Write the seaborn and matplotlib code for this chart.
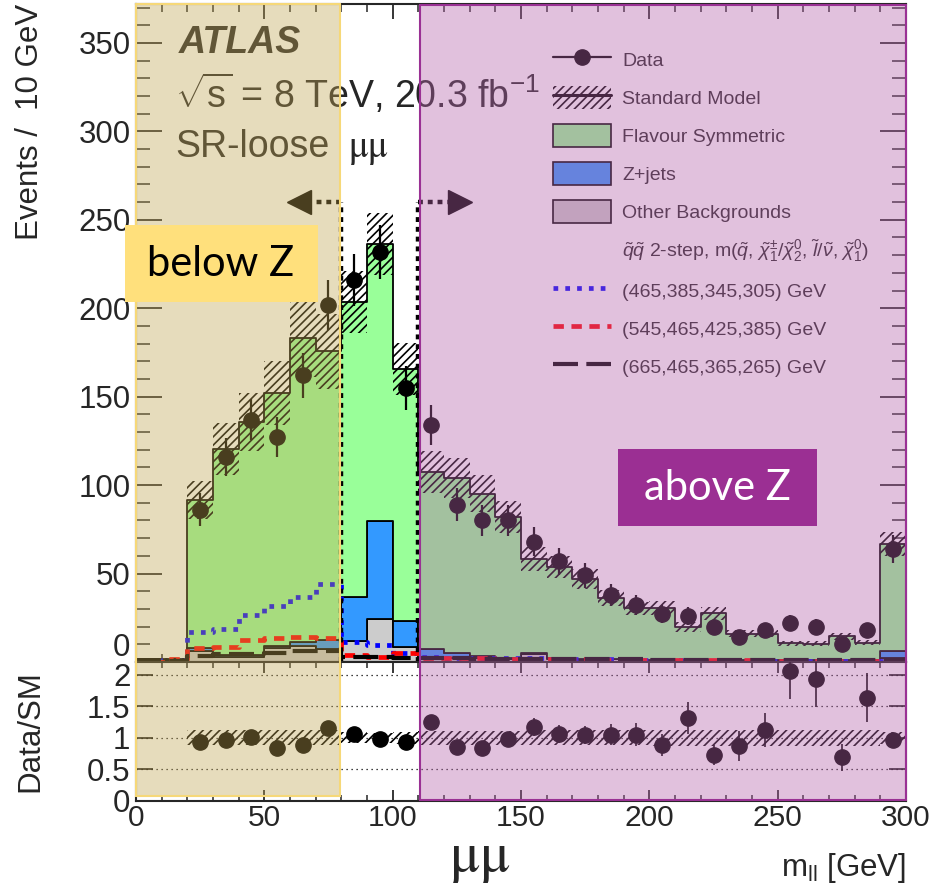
import numpy as np
import pandas as pd
import matplotlib
matplotlib.use("Agg")
import matplotlib.pyplot as plt
import seaborn as sns
from matplotlib.patches import Rectangle, Patch
from matplotlib.lines import Line2D
from matplotlib.transforms import blended_transform_factory
from matplotlib.ticker import MultipleLocator

# ---------------- data (10 GeV bins, 0-300 GeV) ----------------
edges = np.arange(0, 310, 10)
centers = edges[:-1] + 5
bin_list = [float(e) for e in edges]

other_bkg = [1.2, 1.0, 6.5, 3.0, 3.0, 8.0, 9.0, 7.5, 11.9, 24.3, 8.6, 2.2, 2.0, 2.0, 1.5,
             4.5, 1.5, 1.2, 1.5, 1.0, 1.0, 0.8, 0.8, 0.8, 0.6, 0.6, 0.6, 0.6, 0.6, 2.0]
zjets = [0.3, 0.3, 1.5, 0.8, 1.2, 0.8, 2.5, 5.0, 24.8, 55.4, 14.6, 5.0, 3.3, 1.4, 1.0,
         0.6, 0.5, 0.4, 0.4, 0.3, 0.3, 0.3, 0.3, 0.3, 0.3, 0.3, 0.3, 0.3, 0.3, 4.5]
flavour_sym = [0.3, 0.5, 83.6, 116.6, 131.6, 143.2, 171.5, 163.1, 166.8, 156.6, 142.4,
               100.2, 98.7, 91.6, 79.5, 53.1, 51.7, 45.3, 34.3, 29.2, 29.0, 18.7, 26.4,
               15.0, 15.1, 9.8, 9.5, 13.6, 10.1, 60.2]
data = [0, 0, 86, 116, 137, 127, 162, 202, 216, 232, 155, 134, 89, 80, 80,
        68, 57, 49, 38, 32, 27, 26, 20, 14, 18, 22, 20, 10, 18, 64]
sm_rel_unc = [0.12, 0.12, 0.12, 0.12, 0.12, 0.12, 0.12, 0.12, 0.085, 0.075, 0.09,
              0.11, 0.11, 0.11, 0.11, 0.12, 0.12, 0.12, 0.12, 0.12, 0.13, 0.13, 0.13,
              0.13, 0.13, 0.13, 0.13, 0.13, 0.13, 0.10]
sig_465 = [0, 1, 17, 18.5, 26.6, 31.7, 36.6, 44.1, 11.5, 9.6, 5, 3, 2.5, 2.5, 2,
           2, 1.5, 1.5, 1.5, 1.2, 1, 1, 0.8, 0.8, 0.6, 0.6, 0.5, 0.5, 0.5, 0.8]
sig_545 = [0, 1.5, 7.7, 8.3, 12.4, 13.8, 14.3, 13.4, 4, 3, 5, 2, 2, 2, 1.8,
           1.5, 1.5, 1.5, 1.2, 1.2, 1.0, 1, 1, 1, 0.8, 0.8, 0.8, 0.8, 0.8, 0.8]
sig_665 = [0.5, 0.5, 3.4, 4.3, 4.5, 5.3, 6.4, 6.4, 3, 3, 2, 2, 2, 1.8, 1.8,
           1.5, 1.5, 1.5, 1.5, 1.5, 1.2, 1.2, 1.2, 1, 1, 1, 1, 1, 1, 1]

processes = ["Flavour Symmetric", "Z+jets", "Other Backgrounds"]
colors = {"Flavour Symmetric": "#99ff99", "Z+jets": "#3399ff", "Other Backgrounds": "#cccccc"}

# ---------------- style ----------------
sns.set_style("ticks")
plt.rcParams["font.family"] = ["Liberation Sans", "DejaVu Sans"]
plt.rcParams["mathtext.fontset"] = "custom"
plt.rcParams["mathtext.rm"] = "Liberation Sans"
plt.rcParams["mathtext.it"] = "Liberation Sans:italic"
plt.rcParams["mathtext.bf"] = "Liberation Sans:bold"
plt.rcParams["hatch.linewidth"] = 1.2
plt.rcParams["axes.linewidth"] = 1.5

W, H = 937, 885
fig = plt.figure(figsize=(W / 100, H / 100), dpi=100)
ax = fig.add_axes([136 / W, 1 - 662 / H, 770 / W, 658 / H])
rax = fig.add_axes([136 / W, 1 - 801 / H, 770 / W, 139 / H])

other_a = np.array(other_bkg)
zj_a = np.array(zjets)
fs_a = np.array(flavour_sym)
sm = other_a + zj_a + fs_a
data_a = np.array(data, dtype=float)
rel = np.array(sm_rel_unc)

# ---------------- stacked backgrounds ----------------
df = pd.DataFrame({
    "mll": np.tile(centers, 3),
    "events": np.concatenate([fs_a, zj_a, other_a]),
    "process": np.repeat(processes, len(centers)),
})
sns.histplot(data=df, x="mll", weights="events", hue="process", hue_order=processes,
             multiple="stack", bins=bin_list, element="step", palette=colors,
             edgecolor="black", linewidth=1.3, alpha=1, legend=False, ax=ax)

# signal models
sig_styles = [
    (sig_465, "#0000ff", (0, (1, 1.5)), 3.4),
    (sig_545, "#ff0000", (0, (2.2, 1.6)), 3.4),
    (sig_665, "#000000", (0, (6, 2)), 3.0),
]
for vals, col, ls, lw in sig_styles:
    sns.histplot(x=centers, weights=vals, bins=bin_list, element="step", fill=False,
                 color=col, linestyle=ls, linewidth=lw, ax=ax)

# SM uncertainty band
lo = np.append(sm * (1 - rel), sm[-1] * (1 - rel[-1]))
hi = np.append(sm * (1 + rel), sm[-1] * (1 + rel[-1]))
ax.fill_between(edges, lo, hi, step="post", facecolor="none", edgecolor="black",
                hatch="////", linewidth=0, zorder=3)

# data
m = data_a > 0
ax.errorbar(centers[m], data_a[m], yerr=np.sqrt(data_a[m]), fmt="o", color="black",
            ms=11, elinewidth=1.6, capsize=0, zorder=4)

# Z-window boundaries and arrows
win_style = dict(color="black", lw=3.2, ls=(0, (1.1, 1.1)), zorder=5,
                 solid_capstyle="butt", dash_capstyle="butt")
ax.plot([80, 80], [0, 260], **win_style)
ax.plot([110, 110], [0, 260], **win_style)
ax.plot([80, 66], [260, 260], **win_style)
ax.plot([110, 124], [260, 260], **win_style)
ax.plot([63.6], [260], marker="<", ms=17, color="black", zorder=5)
ax.plot([126.4], [260], marker=">", ms=17, color="black", zorder=5)

ax.set_xlim(0, 300)
ax.set_ylim(0, 372)
ax.set_xlabel("")
ax.set_ylabel("Events /  10 GeV", fontsize=22.5, loc="top")
ax.yaxis.set_label_coords(-0.118, 1.0)
ax.xaxis.set_major_locator(MultipleLocator(50))
ax.xaxis.set_minor_locator(MultipleLocator(10))
ax.set_yticks(np.arange(0, 351, 50))
ax.set_yticklabels([""] + [str(v) for v in range(50, 351, 50)])
ax.yaxis.set_minor_locator(MultipleLocator(10))
ax.tick_params(axis="both", which="both", direction="in", top=True, right=True,
               labelsize=22.5)
ax.tick_params(axis="x", labelbottom=False)
ax.tick_params(axis="y", which="major", length=19, width=1.3, pad=4)
ax.tick_params(axis="y", which="minor", length=10, width=1.1)
ax.tick_params(axis="x", which="major", length=11, width=1.3)
ax.tick_params(axis="x", which="minor", length=5.5, width=1.1)
fig.text(130 / W, 1 - 648 / H, "0", ha="right", va="center", fontsize=22.5)

# labels inside the main panel
ax.text(0.0558, 0.9255, "ATLAS", transform=ax.transAxes, fontsize=27,
        fontweight="bold", fontstyle="italic", va="baseline")
ax.text(0.0506, 0.8419, r"$\sqrt{\mathrm{s}}$ = 8 TeV, 20.3 fb$^{-1}$",
        transform=ax.transAxes, fontsize=27, va="baseline")
ax.text(0.0506, 0.7675, "SR-loose", transform=ax.transAxes, fontsize=27, va="baseline")
ax.text(0.2753, 0.7675, r"$\mathrm{\mu\mu}$", transform=ax.transAxes, fontsize=27,
        va="baseline", math_fontfamily="stix")

# legend
handles = [
    Line2D([], [], color="black", marker="o", ms=11, lw=1.6),
    (Patch(facecolor="none", edgecolor="black", hatch="////", linewidth=0),
     Line2D([], [], color="black", lw=2.2)),
    Patch(facecolor=colors["Flavour Symmetric"], edgecolor="black", linewidth=1.2),
    Patch(facecolor=colors["Z+jets"], edgecolor="black", linewidth=1.2),
    Patch(facecolor=colors["Other Backgrounds"], edgecolor="black", linewidth=1.2),
    Line2D([], [], lw=0),
    Line2D([], [], color="#0000ff", ls=(0, (1, 1.5)), lw=3.4),
    Line2D([], [], color="#ff0000", ls=(0, (2.2, 1.6)), lw=3.4),
    Line2D([], [], color="black", ls=(0, (6, 2)), lw=3.0),
]
labels = [
    "Data", "Standard Model", "Flavour Symmetric", "Z+jets", "Other Backgrounds",
    r"$\tilde{q}\tilde{q}$ 2-step, m($\tilde{q}$, $\tilde{\chi}_{1}^{\pm}/\tilde{\chi}_{2}^{0}$, "
    r"$\tilde{l}/\tilde{\nu}$, $\tilde{\chi}_{1}^{0}$)",
    "(465,385,345,305) GeV", "(545,465,425,385) GeV", "(665,465,365,265) GeV",
]
ax.legend(handles, labels, loc="upper left", bbox_to_anchor=((553 - 136) / 770, (662 - 48) / 658),
          frameon=False, fontsize=14, handlelength=3.0, handleheight=1.44,
          handletextpad=0.57, labelspacing=0.77, borderpad=0, borderaxespad=0)

# ---------------- ratio panel ----------------
ratio = np.where(m, data_a / sm, np.nan)
ratio_err = np.where(m, np.sqrt(data_a) / sm, np.nan)
band_lo = np.append(1 - rel, 1 - rel[-1])
band_hi = np.append(1 + rel, 1 + rel[-1])
rax.fill_between(edges[2:], band_lo[2:], band_hi[2:], step="post", facecolor="none",
                 edgecolor="black", hatch="////", linewidth=0, zorder=2)
for yv in [0.5, 1.0, 1.5, 2.0]:
    rax.axhline(yv, color="black", lw=0.9, ls=(0, (1, 3)), zorder=1)
rax.errorbar(centers[m], ratio[m], yerr=ratio_err[m], fmt="o", color="black", ms=11,
             elinewidth=1.2, capsize=0, zorder=4)
rax.set_xlim(0, 300)
rax.set_ylim(0, 2.2)
rax.set_yticks([0, 0.5, 1, 1.5, 2])
rax.set_yticklabels(["0", "0.5", "1", "1.5", "2"])
rax.xaxis.set_major_locator(MultipleLocator(50))
rax.xaxis.set_minor_locator(MultipleLocator(10))
rax.tick_params(axis="both", which="both", direction="in", top=True, right=True,
                labelsize=22.5)
rax.tick_params(axis="x", which="both", labelsize=21.5)
rax.tick_params(axis="y", which="major", length=12, width=1.3, pad=4)
rax.tick_params(axis="x", which="major", length=8, width=1.3, pad=2)
rax.tick_params(axis="x", which="minor", length=4, width=1.1)
rax.set_ylabel("Data/SM", fontsize=22.5)
rax.yaxis.set_label_coords(-0.118, 0.5)
rax.set_xlabel(r"m$_{\mathrm{ll}}$ [GeV]", fontsize=22.5, loc="right")
rax.xaxis.set_label_coords(1.0, -0.36)

# ---------------- highlighted regions ----------------
blend = blended_transform_factory(ax.transData, fig.transFigure)
x_b0, x_b1 = 0.0, 79.4
y_b0, y_b1 = 1 - 796 / H, 1 - 4 / H
fig.add_artist(Rectangle((x_b0, y_b0), x_b1 - x_b0, y_b1 - y_b0, transform=blend,
                         facecolor=(192 / 255, 164 / 255, 83 / 255), alpha=0.385,
                         edgecolor="none", zorder=2))
fig.add_artist(Rectangle((x_b0, y_b0), x_b1 - x_b0, y_b1 - y_b0, transform=blend,
                         facecolor="none", edgecolor="#f6d878", lw=1.5, zorder=2))
x_p0, x_p1 = 110.7, 300.0
y_p0, y_p1 = 1 - 800 / H, 1 - 5 / H
fig.add_artist(Rectangle((x_p0, y_p0), x_p1 - x_p0, y_p1 - y_p0, transform=blend,
                         facecolor=(180 / 255, 100 / 255, 170 / 255), alpha=0.4,
                         edgecolor="none", zorder=2))
fig.add_artist(Rectangle((x_p0, y_p0), x_p1 - x_p0, y_p1 - y_p0, transform=blend,
                         facecolor="none", edgecolor="#9a3194", lw=1.5, zorder=2))

# region tags
fig.add_artist(Rectangle((125 / W, 1 - 302 / H), 193 / W, 77 / H, transform=fig.transFigure,
                         facecolor="#ffe07c", edgecolor="none", zorder=5))
fig.text(221 / W, 1 - 264 / H, "below Z", ha="center", va="center", fontsize=30,
         family=["Lato", "DejaVu Sans"], color="black", zorder=6)
fig.add_artist(Rectangle((618 / W, 1 - 526 / H), 199 / W, 77 / H, transform=fig.transFigure,
                         facecolor="#9b2f93", edgecolor="none", zorder=5))
fig.text(717 / W, 1 - 488 / H, "above Z", ha="center", va="center", fontsize=30,
         family=["Lato", "DejaVu Sans"], color="white", zorder=6)
fig.text(480 / W, 1 - 871 / H, r"$\mathrm{\mu\mu}$", ha="center", va="baseline",
         fontsize=41, math_fontfamily="stix", zorder=6)

fig.savefig("out.png", dpi=100)
